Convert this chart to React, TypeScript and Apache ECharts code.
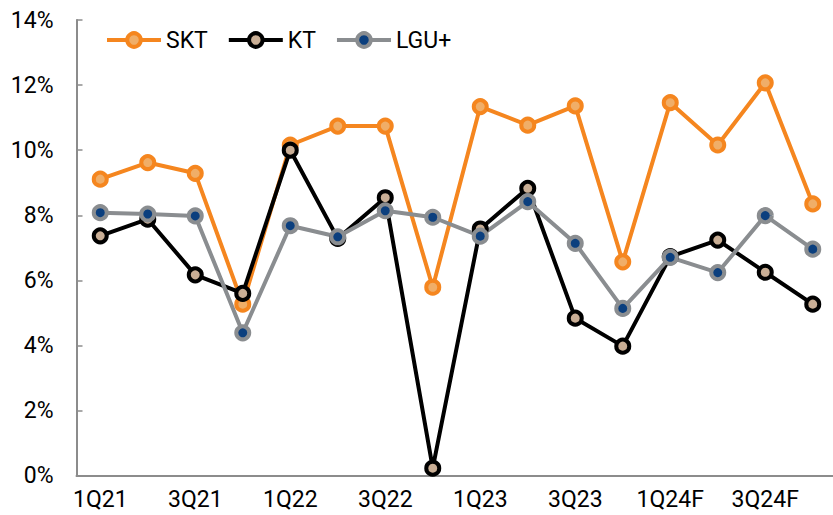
import React, { useEffect, useRef } from "react";
import * as echarts from "echarts";

const categories = ["1Q21","2Q21","3Q21","4Q21","1Q22","2Q22","3Q22","4Q22","1Q23","2Q23","3Q23","4Q23","1Q24F","2Q24F","3Q24F","4Q24F"];
const sktValues = [9.11, 9.62, 9.29, 5.27, 10.16, 10.74, 10.74, 5.79, 11.34, 10.77, 11.36, 6.57, 11.46, 10.16, 12.07, 8.35];
const ktValues = [7.37, 7.88, 6.17, 5.6, 10.0, 7.29, 8.54, 0.23, 7.58, 8.83, 4.84, 3.98, 6.73, 7.24, 6.25, 5.27];
const lguValues = [8.08, 8.04, 7.98, 4.39, 7.68, 7.34, 8.14, 7.94, 7.36, 8.42, 7.14, 5.14, 6.71, 6.24, 7.99, 6.96];
const seriesNames = ["SKT", "KT", "LGU+"];

const FONT = "Roboto";

export default function App() {
  const ref = useRef<HTMLDivElement>(null);
  useEffect(() => {
    if (!ref.current) return;
    const chart = echarts.init(ref.current, null, { renderer: "svg" });
    const mk = (name: string, data: number[], line: string, fill: string, border: string) => ({
      name,
      type: "line",
      data,
      symbol: "circle",
      symbolSize: 13,
      lineStyle: { color: line, width: 4 },
      itemStyle: { color: fill, borderColor: border, borderWidth: 4 },
      emphasis: { disabled: true },
    });
    chart.setOption({
      animation: false,
      textStyle: { fontFamily: FONT },
      grid: { left: 76.5, right: -3.5, top: 20, bottom: 39.3, outerBoundsMode: "none" },
      legend: {
        left: 105,
        top: 28.5,
        padding: 0,
        itemWidth: 54,
        itemHeight: 17,
        itemGap: 19,
        lineStyle: { width: 4 },
        itemStyle: { borderWidth: 4 },
        textStyle: { fontSize: 23, color: "#000", fontFamily: FONT },
        data: seriesNames,
      },
      xAxis: {
        type: "category",
        data: categories,
        boundaryGap: true,
        axisLine: { lineStyle: { color: "#8c8c8c", width: 2 } },
        axisTick: { inside: true, length: 6, interval: 0, lineStyle: { color: "#8c8c8c", width: 1.5 } },
        axisLabel: { interval: 1, fontSize: 23, color: "#000", margin: 12, fontFamily: FONT },
        splitLine: { show: false },
      },
      yAxis: {
        type: "value",
        min: 0,
        max: 14,
        interval: 2,
        axisLine: { show: true, lineStyle: { color: "#8c8c8c", width: 2 } },
        axisTick: { show: true, inside: true, length: 6, lineStyle: { color: "#8c8c8c", width: 1.5 } },
        axisLabel: { formatter: "{value}%", fontSize: 23, color: "#000", margin: 23, fontFamily: FONT },
        splitLine: { show: false },
      },
      series: [
        mk("SKT", sktValues, "#F5861F", "#F0AE68", "#F5861F"),
        mk("KT", ktValues, "#000000", "#C9AE95", "#000000"),
        mk("LGU+", lguValues, "#8A8D90", "#0B3F7E", "#8A8D90"),
      ],
    });
    return () => chart.dispose();
  }, []);
  return (
    <div
      ref={ref}
      style={{ position: "fixed", left: 0, top: 0, width: 833, height: 515, background: "#fff" }}
    />
  );
}
